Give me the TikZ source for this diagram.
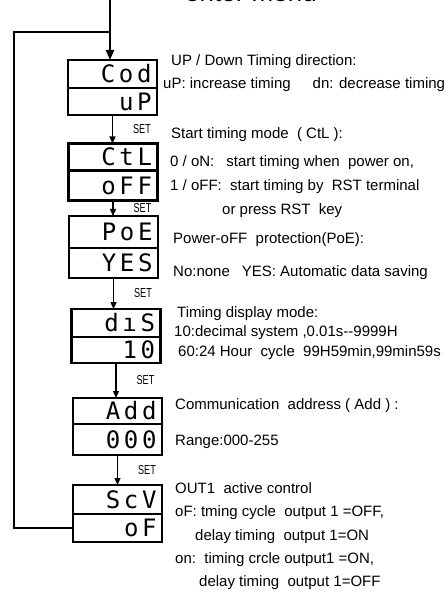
\documentclass[tikz,border=0pt]{standalone}
\usepackage{fontspec}
\setmainfont{Liberation Sans}
\newfontfamily\segfont[LetterSpace=15]{DejaVu Sans Mono}
\newfontfamily\setfont[FakeStretch=0.7]{Liberation Sans}
\usetikzlibrary{positioning,arrows.meta}

\begin{document}
\begin{tikzpicture}[x = 1pt, y = -1pt,
    disp/.style = { draw, line width = 2.6pt, outer sep = 0pt, inner xsep = 5pt, inner ysep = 0pt,
                    text width = 78pt, align = right, minimum width = 89pt,
                    font = \segfont\fontsize{24}{24}\selectfont },
    note/.style = { anchor = west, inner sep = 0pt, font = \fontsize{15}{17}\selectfont },
    setlbl/.style = { anchor = west, xshift = 20pt, inner sep = 0pt, font = \setfont\fontsize{13}{14}\selectfont },
    flow/.style = { line width = 1.3pt, -{Triangle[length = 7pt, width = 6pt]} },
    backline/.style = { line width = 2.2pt }]
  \useasboundingbox (0,0) rectangle (446,593);

  % display boxes, upper and lower half
  \node [disp, minimum height = 28pt] (cod) at (112.5,74) {Cod};
  \node [disp, minimum height = 27pt, below = 0pt of cod] (up) {uP};
  \node [disp, minimum height = 27pt] (ctl) at (113,157) {CtL};
  \node [disp, minimum height = 30pt, below = 0pt of ctl] (off) {oFF};
  \node [disp, minimum height = 32pt] (poe) at (113.5,232) {PoE};
  \node [disp, minimum height = 30pt, below = 0pt of poe] (yes) {YES};
  \node [disp, minimum height = 28pt] (dis) at (116,323) {dıS};
  \node [disp, minimum height = 26pt, below = 0pt of dis] (ten) {10};
  \node [disp, minimum height = 26pt] (add) at (117.5,411) {Add};
  \node [disp, minimum height = 31pt, below = 0pt of add] (zero) {000};
  \node [disp, minimum height = 29pt] (scv) at (117.5,499.5) {ScV};
  \node [disp, minimum height = 28pt, below = 0pt of scv] (of) {oF};

  % entry and loop back
  \node [inner sep = 0pt, anchor = base, font = \fontsize{26}{28}\selectfont] (enter) at (251,2) {enter menu};
  \coordinate (entry) at (110,0);
  \coordinate (corner) at (14,32);
  \draw [backline, -{Triangle[length = 10pt, width = 8pt]}] (entry) -- (entry |- cod.north);
  \draw [backline] (of.west) -| (corner) -- (corner -| entry);

  % SET steps
  \draw [flow] (up.south) -- (up.south |- ctl.north) node [setlbl, midway] {SET};
  \draw [flow] (off.south) -- (off.south |- poe.north) node [setlbl, midway] {SET};
  \draw [flow] (yes.south) -- (yes.south |- dis.north) node [setlbl, midway] {SET};
  \draw [flow] (ten.south) -- (ten.south |- add.north) node [setlbl, midway] {SET};
  \draw [flow] (zero.south) -- (zero.south |- scv.north) node [setlbl, midway] {SET};

  % descriptions
  \node [note] (dir1) at (171,62) {UP / Down Timing direction:};
  \node [note] (dir2) at (163,85) {uP: increase timing\hspace{22pt}dn: decrease timing};
  \node [note] (ctl1) at (171,135) {Start timing mode\ \ ( CtL ):};
  \node [note] (ctl2) at (170,163) {0 / oN:\hspace{12pt}start timing when\ \ power on,};
  \node [note] (ctl3) at (170,187) {1 / oFF:\ \ start timing by\ \ RST terminal};
  \node [note] (ctl4) at (222,211) {or press RST\ \ key};
  \node [note] (poe1) at (173,240) {Power-oFF\ \ protection(PoE):};
  \node [note] (poe2) at (173,273) {No:none\hspace{12pt}YES: Automatic data saving};
  \node [note] (dis1) at (177,314) {Timing display mode:};
  \node [note] (dis2) at (174,333) {10:decimal system ,0.01s-{}-9999H};
  \node [note] (dis3) at (178,353) {60:24 Hour\ \ cycle\ \ 99H59min,99min59s};
  \node [note] (add1) at (175,406) {Communication\ \ address ( Add ) :};
  \node [note] (add2) at (175,442) {Range:000-255};
  \node [note] (scv1) at (175,488) {OUT1\ \ active control};
  \node [note] (scv2) at (175,513) {oF: tming cycle\ \ output 1 =OFF,};
  \node [note] (scv3) at (195,537) {delay timing\ \ output 1=ON};
  \node [note] (scv4) at (175,560) {on:\ \ timing crcle output1 =ON,};
  \node [note] (scv5) at (199,583) {delay timing\ \ output 1=OFF};
\end{tikzpicture}
\end{document}
